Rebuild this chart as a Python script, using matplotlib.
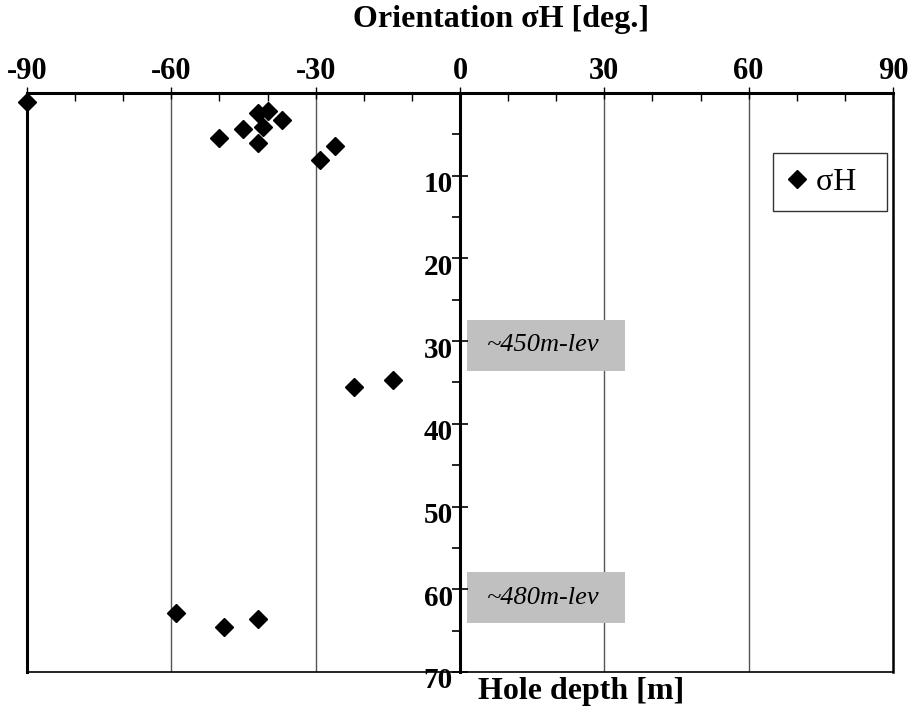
import matplotlib
matplotlib.use("Agg")
import matplotlib.pyplot as plt
from matplotlib.ticker import MultipleLocator
from matplotlib.transforms import ScaledTranslation

plt.rcParams['font.family'] = ['Liberation Serif', 'DejaVu Serif']

# orientation of sigma H [deg.] and hole depth [m]
orient = [-90, -42, -40, -37, -41, -45, -50, -42, -26, -29, -22, -14, -59, -49, -42]
depth = [1.1, 2.4, 2.2, 3.3, 4.1, 4.4, 5.4, 6.0, 6.4, 8.1, 35.5, 34.7, 62.9, 64.6, 63.6]

xticks = [-90, -60, -30, 0, 30, 60, 90]
yticks = [10, 20, 30, 40, 50, 60, 70]
levels = ["~450m-lev", "~480m-lev"]
level_depth = [30.5, 61.0]

fig = plt.figure(figsize=(9.2, 7.11), dpi=100)
ax = fig.add_axes([27/920, 1 - 672/711, 866/920, 579/711])

ax.set_xlim(-90, 90)
ax.set_ylim(70, 0)

# vertical grid lines
for g in [-60, -30, 30, 60]:
    ax.axvline(g, color='#555555', lw=1.0, zorder=0)
ax.axvline(-90, color='black', lw=2.2, clip_on=False, zorder=1)

ax.spines['left'].set_position(('data', 0))
ax.spines['left'].set_linewidth(2.2)
ax.spines['top'].set_linewidth(2.2)
ax.spines['right'].set_linewidth(1.8)
ax.spines['bottom'].set_linewidth(1.2)

ax.xaxis.tick_top()
ax.set_xticks(xticks)
ax.set_xticklabels([str(v) for v in xticks], fontweight='bold', fontsize=22)
ax.xaxis.set_minor_locator(MultipleLocator(10))
ax.tick_params(axis='x', which='major', direction='inout', length=8, width=1, pad=1)
ax.tick_params(axis='x', which='minor', direction='in', length=6, width=1)

ax.set_yticks(yticks)
ax.set_yticklabels([str(v) for v in yticks], fontweight='bold', fontsize=21)
ax.yaxis.set_minor_locator(MultipleLocator(5))
ax.tick_params(axis='y', which='major', direction='inout', length=12, width=1.2, pad=-1)
ax.tick_params(axis='y', which='minor', direction='out', length=6, width=1.2)
ax.tick_params(axis='y', right=False)
shift = ScaledTranslation(0, -6/100, fig.dpi_scale_trans)
for lab in ax.get_yticklabels():
    lab.set_transform(lab.get_transform() + shift)

# level annotation boxes
for lab, d in zip(levels, level_depth):
    ax.add_patch(plt.Rectangle((1.5, d - 3.1), 32.8, 6.2, fc='#c0c0c0', ec='none', zorder=1.5))
    ax.text(5.6, d, lab, fontsize=19, style='italic', va='center', ha='left', zorder=2)

ax.plot(orient, depth, 'D', color='black', ms=9.5, label='σH  ', clip_on=False, zorder=5)

leg = ax.legend(loc='upper right', bbox_to_anchor=(0.993, 0.896), fontsize=23,
                frameon=True, fancybox=False, edgecolor='black', handlelength=0.6,
                handletextpad=0.3, borderpad=0.45, borderaxespad=0, markerscale=1.0)
leg.get_frame().set_linewidth(1.0)

fig.text(501/920, 1 - 19/711, 'Orientation σH [deg.]', fontsize=23, fontweight='bold',
         ha='center', va='center')
fig.text(581/920, 1 - 691/711, 'Hole depth [m]', fontsize=23, fontweight='bold',
         ha='center', va='center')

fig.savefig('out.png', dpi=100)
